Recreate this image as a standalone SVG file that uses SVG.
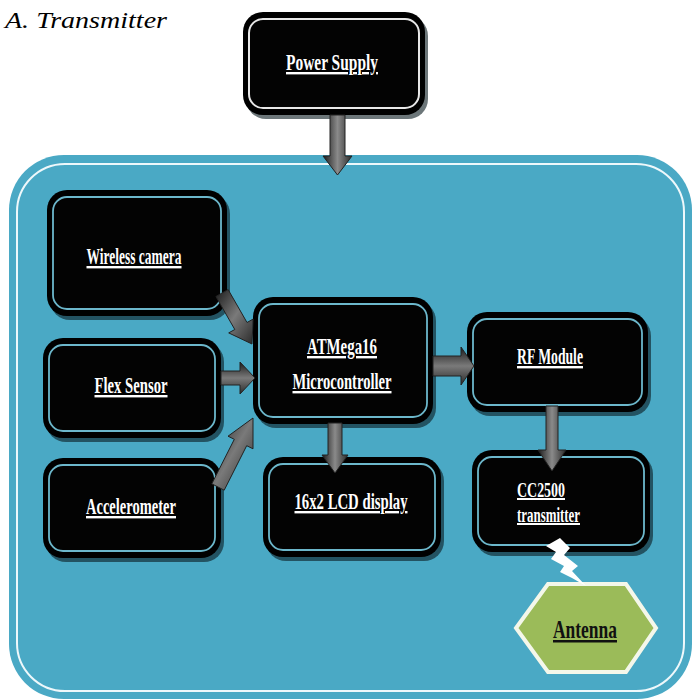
<svg xmlns="http://www.w3.org/2000/svg" width="695" height="700" viewBox="0 0 695 700">
<defs>
<linearGradient id="gv" x1="0" y1="0" x2="1" y2="0">
<stop offset="0" stop-color="#1a1a1a"/><stop offset="0.5" stop-color="#8a8a8a"/><stop offset="1" stop-color="#2a2a2a"/>
</linearGradient>
<linearGradient id="gh" x1="0" y1="0" x2="0" y2="1">
<stop offset="0" stop-color="#1a1a1a"/><stop offset="0.5" stop-color="#7a7a7a"/><stop offset="1" stop-color="#2a2a2a"/>
</linearGradient>
<linearGradient id="gd" x1="0" y1="0" x2="1" y2="1">
<stop offset="0" stop-color="#1a1a1a"/><stop offset="0.5" stop-color="#7a7a7a"/><stop offset="1" stop-color="#2a2a2a"/>
</linearGradient>
</defs>
<style>
.head{font-family:"Times New Roman",Times,"Liberation Serif",serif;font-style:italic;font-size:23px;fill:#000}
.lbl{font-family:"Times New Roman",Times,"Liberation Serif",serif;font-weight:bold;font-size:24px;fill:#fff;text-decoration:underline}
.lbl2{font-family:"Times New Roman",Times,"Liberation Serif",serif;font-weight:bold;font-size:20px;fill:#fff;text-decoration:underline}
.ant{font-family:"Times New Roman",Times,"Liberation Serif",serif;font-weight:bold;font-size:25px;fill:#111;text-decoration:underline}
.shadow{fill:#0a1a20;opacity:0.6}
.outer{fill:#000}
.inner{fill:#030303;stroke:#6cb7cb;stroke-width:1.8}
.innerw{fill:#030303;stroke:#e8e8e8;stroke-width:2}
.arr{stroke:#222;stroke-width:1}
</style>
<text class="head" x="5" y="28" textLength="162" lengthAdjust="spacingAndGlyphs">A.  Transmitter</text>

<g id="panel">
<rect x="9" y="155" width="683" height="544" rx="55" fill="#4aa9c5"/>
<rect x="17" y="164" width="667" height="527" rx="48" fill="none" stroke="#eef8fb" stroke-width="2"/>
</g>

<g id="power-supply">
<rect x="246" y="16" width="182" height="103" rx="20" class="shadow"/>
<rect x="243" y="12" width="182" height="103" rx="20" class="outer"/>
<rect x="249" y="19" width="170" height="89" rx="14" class="innerw"/>
<text class="lbl" x="332" y="70" text-anchor="middle" textLength="92" lengthAdjust="spacingAndGlyphs">Power Supply</text>
</g>

<g id="wireless-camera">
<rect x="50" y="194" width="180" height="126" rx="20" class="shadow"/>
<rect x="47" y="190" width="180" height="126" rx="20" class="outer"/>
<rect x="53" y="197" width="168" height="112" rx="14" class="inner"/>
<text class="lbl" x="134" y="264" text-anchor="middle" textLength="95" lengthAdjust="spacingAndGlyphs">Wireless camera</text>
</g>

<g id="flex-sensor">
<rect x="46" y="342" width="178" height="100" rx="20" class="shadow"/>
<rect x="43" y="338" width="178" height="100" rx="20" class="outer"/>
<rect x="49" y="345" width="166" height="86" rx="14" class="inner"/>
<text class="lbl" x="131" y="393" text-anchor="middle" textLength="73" lengthAdjust="spacingAndGlyphs">Flex Sensor</text>
</g>

<g id="accelerometer">
<rect x="46" y="462" width="178" height="100" rx="20" class="shadow"/>
<rect x="43" y="458" width="178" height="100" rx="20" class="outer"/>
<rect x="49" y="465" width="166" height="86" rx="14" class="inner"/>
<text class="lbl" x="131" y="514" text-anchor="middle" textLength="90" lengthAdjust="spacingAndGlyphs">Accelerometer</text>
</g>

<g id="atmega16">
<rect x="256" y="301" width="180" height="127" rx="20" class="shadow"/>
<rect x="253" y="297" width="180" height="127" rx="20" class="outer"/>
<rect x="259" y="304" width="168" height="113" rx="14" class="inner"/>
<text class="lbl" x="342" y="354" text-anchor="middle" textLength="70" lengthAdjust="spacingAndGlyphs">ATMega16</text>
<text class="lbl" x="342" y="389" text-anchor="middle" textLength="99" lengthAdjust="spacingAndGlyphs">Microcontroller</text>
</g>

<g id="lcd-display">
<rect x="266" y="461" width="178" height="100" rx="20" class="shadow"/>
<rect x="263" y="457" width="178" height="100" rx="20" class="outer"/>
<rect x="269" y="464" width="166" height="86" rx="14" class="inner"/>
<text class="lbl" x="351" y="509" text-anchor="middle" textLength="113" lengthAdjust="spacingAndGlyphs">16x2 LCD display</text>
</g>

<g id="rf-module">
<rect x="470" y="316" width="181" height="100" rx="20" class="shadow"/>
<rect x="467" y="312" width="181" height="100" rx="20" class="outer"/>
<rect x="473" y="319" width="169" height="86" rx="14" class="inner"/>
<text class="lbl" x="550" y="364" text-anchor="middle" textLength="66" lengthAdjust="spacingAndGlyphs">RF Module</text>
</g>

<g id="cc2500">
<rect x="475" y="454" width="178" height="102" rx="20" class="shadow"/>
<rect x="472" y="450" width="178" height="102" rx="20" class="outer"/>
<rect x="478" y="457" width="166" height="88" rx="14" class="inner"/>
<text class="lbl2" x="517" y="497" textLength="48" lengthAdjust="spacingAndGlyphs">CC2500</text>
<text class="lbl2" x="517" y="522" textLength="63" lengthAdjust="spacingAndGlyphs">transmitter</text>
</g>

<g id="antenna">
<polygon points="548,584 626,584 656,628 626,672 548,672 516,628" fill="#9bbb59" stroke="#f4f7ea" stroke-width="4"/>
<text class="ant" x="585" y="638" text-anchor="middle" textLength="64" lengthAdjust="spacingAndGlyphs">Antenna</text>
</g>

<g id="connectors">
<path class="arr" fill="url(#gv)" d="M330,115 L345,115 L345,156 L352,156 L337.5,175 L323,156 L330,156 Z"/>
<path class="arr" fill="url(#gd)" d="M215.9,296.5 L228.1,289.5 L247,322.5 L253.1,319.1 L252,344 L228.7,332.9 L234.8,329.5 Z"/>
<path class="arr" fill="url(#gh)" d="M221,371 L240,371 L240,362 L255,378 L240,394 L240,385 L221,385 Z"/>
<path class="arr" fill="url(#gd)" d="M211.8,483.8 L224.2,490.2 L246.7,445.7 L253,448.8 L253,418 L228,436.2 L234.3,439.3 Z"/>
<path class="arr" fill="url(#gh)" d="M433,356 L461,356 L461,347 L474,366 L461,385 L461,376 L433,376 Z"/>
<path class="arr" fill="url(#gv)" d="M328,423 L342,423 L342,455 L348,455 L335,473 L322,455 L328,455 Z"/>
<path class="arr" fill="url(#gv)" d="M546,406 L558,406 L558,450 L566,450 L552,471 L538,450 L546,450 Z"/>
<polygon points="560,538 570,548 564,555 578,566 572,571 586,586 572,578 560,572 564,566 551,559 556,552 546,546" fill="#fff"/>
</g>
</svg>
